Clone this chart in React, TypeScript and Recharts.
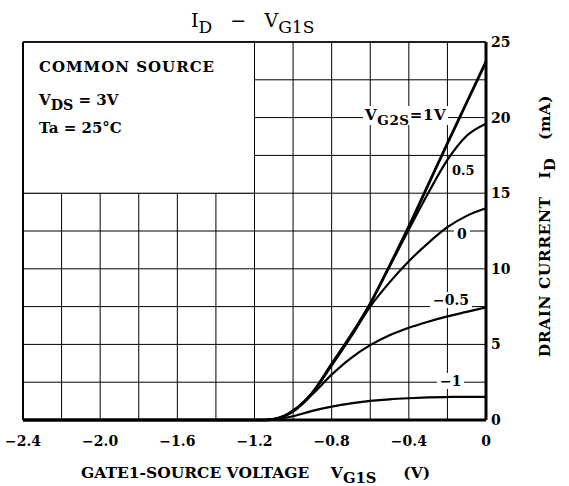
import { LineChart, Line, XAxis, YAxis, CartesianGrid, ReferenceArea, ReferenceLine } from 'recharts'

// gate1-source voltage (V)
const vg1s = [-2.4, -1.2, -1.15, -1.1, -1.0, -0.9, -0.8, -0.7, -0.6, -0.5, -0.4, -0.3, -0.2, -0.1, 0]

// drain current (mA) for each VG2S
const id1V = [0, 0, 0, 0.05, 0.6, 1.8, 3.7, 5.6, 7.7, 10.2, 12.8, 15.55, 18.3, 21.0, 23.7]
const id05V = [0, 0, 0, 0.05, 0.6, 1.8, 3.7, 5.6, 7.7, 10.15, 12.6, 15.0, 17.2, 18.8, 19.6]
const id0V = [0, 0, 0, 0.05, 0.6, 1.8, 3.6, 5.5, 7.5, 9.1, 10.5, 11.7, 12.75, 13.5, 14.0]
const idM05V = [0, 0, 0, 0.05, 0.55, 1.7, 3.0, 4.1, 4.95, 5.6, 6.1, 6.5, 6.85, 7.15, 7.45]
const idM1V = [0, 0, 0, 0.05, 0.25, 0.6, 0.88, 1.1, 1.26, 1.37, 1.44, 1.49, 1.52, 1.53, 1.53]

const xTicks = [-2.4, -2.2, -2.0, -1.8, -1.6, -1.4, -1.2, -1.0, -0.8, -0.6, -0.4, -0.2, 0]
const xTickLabels = ['−2.4', '', '−2.0', '', '−1.6', '', '−1.2', '', '−0.8', '', '−0.4', '', '0']
const yTicks = [0, 2.5, 5, 7.5, 10, 12.5, 15, 17.5, 20, 22.5, 25]
const yTickLabels = ['0', '', '5', '', '10', '', '15', '', '20', '', '25']

const data = vg1s.map((v, i) => ({
  vg1s: v,
  v1: id1V[i],
  v05: id05V[i],
  v0: id0V[i],
  vm05: idM05V[i],
  vm1: idM1V[i],
}))

const font = "'DejaVu Serif', serif"
const tickStyle = { fontSize: 14, fontWeight: 700, fill: '#000', fontFamily: font }

const Sub = ({ children, size = '0.85em' }: { children: string; size?: string }) => (
  <span style={{ fontSize: size, position: 'relative', top: '0.35em' }}>{children}</span>
)

const labelBase: React.CSSProperties = {
  position: 'absolute',
  fontFamily: font,
  fontWeight: 700,
  color: '#000',
  whiteSpace: 'nowrap',
  lineHeight: 1,
}

export default function App() {
  return (
    <div style={{ position: 'absolute', left: 0, top: 0, width: 569, height: 486, background: '#fff' }}>
      <LineChart
        width={569}
        height={486}
        data={data}
        margin={{ top: 42, right: 53, bottom: 36, left: 23 }}
      >
        <CartesianGrid stroke="#000" strokeWidth={1} />
        <XAxis
          dataKey="vg1s"
          type="number"
          domain={[-2.4, 0]}
          ticks={xTicks}
          tickFormatter={(v: number) => xTickLabels[xTicks.findIndex((t) => Math.abs(t - v) < 1e-6)] ?? ''}
          tick={tickStyle}
          tickLine={false}
          tickMargin={10}
          axisLine={{ stroke: '#000', strokeWidth: 3 }}
          height={30}
          interval={0}
        />
        <YAxis
          orientation="right"
          type="number"
          domain={[0, 25]}
          ticks={yTicks}
          tickFormatter={(v: number) => yTickLabels[yTicks.indexOf(v)] ?? ''}
          tick={tickStyle}
          tickLine={false}
          tickSize={0}
          tickMargin={5}
          axisLine={{ stroke: '#000', strokeWidth: 3 }}
          width={30}
          interval={0}
        />
        <ReferenceLine x={-2.4} stroke="#000" strokeWidth={2} />
        <ReferenceLine y={25} stroke="#000" strokeWidth={1.5} />
        <ReferenceArea x1={-2.4} x2={-1.2} y1={15} y2={25} fill="#fff" fillOpacity={1} stroke="#000" strokeWidth={1} />
        <Line type="monotone" dataKey="vm1" stroke="#000" strokeWidth={2.2} dot={false} isAnimationActive={false} />
        <Line type="monotone" dataKey="vm05" stroke="#000" strokeWidth={2.2} dot={false} isAnimationActive={false} />
        <Line type="monotone" dataKey="v0" stroke="#000" strokeWidth={2.2} dot={false} isAnimationActive={false} />
        <Line type="monotone" dataKey="v05" stroke="#000" strokeWidth={2.2} dot={false} isAnimationActive={false} />
        <Line type="monotone" dataKey="v1" stroke="#000" strokeWidth={2.8} dot={false} isAnimationActive={false} />
      </LineChart>

      {/* title */}
      <div style={{ ...labelBase, fontWeight: 400, left: 191, top: 11, fontSize: 19 }}>
        I<Sub size="0.9em">D</Sub>&nbsp;&nbsp;&nbsp;−&nbsp;&nbsp;&nbsp;V<Sub size="0.9em">G1S</Sub>
      </div>

      {/* conditions */}
      <div style={{ ...labelBase, left: 39, top: 60, fontSize: 15, letterSpacing: 1 }}>COMMON SOURCE</div>
      <div style={{ ...labelBase, left: 39, top: 93, fontSize: 15 }}>
        V<Sub size="0.95em">DS</Sub>&nbsp;=&nbsp;3V
      </div>
      <div style={{ ...labelBase, left: 39, top: 121, fontSize: 15 }}>Ta&nbsp;=&nbsp;25°C</div>

      {/* curve labels */}
      <div style={{ ...labelBase, left: 363, top: 106, fontSize: 15, letterSpacing: 0.6, background: '#fff', padding: '2px 2px' }}>
        V<Sub size="0.9em">G2S</Sub>=1V
      </div>
      <div style={{ ...labelBase, left: 452, top: 164, fontSize: 13 }}>0.5</div>
      <div style={{ ...labelBase, left: 454, top: 226, fontSize: 14, background: '#fff', padding: '1px 3px' }}>0</div>
      <div style={{ ...labelBase, left: 430, top: 292, fontSize: 14, background: '#fff', padding: '1px 3px' }}>−0.5</div>
      <div style={{ ...labelBase, left: 437, top: 373, fontSize: 14, background: '#fff', padding: '1px 3px' }}>−1</div>

      {/* x axis title */}
      <div style={{ ...labelBase, left: 81, top: 465, fontSize: 15.5 }}>
        GATE1-SOURCE VOLTAGE&nbsp;&nbsp;&nbsp;&nbsp;V<Sub size="0.95em">G1S</Sub>&nbsp;&nbsp;&nbsp;&nbsp;&nbsp;(V)
      </div>

      {/* y axis title */}
      <div
        style={{
          ...labelBase,
          left: 545,
          top: 226,
          fontSize: 15.5,
          letterSpacing: 0.5,
          transform: 'translate(-50%, -50%) rotate(-90deg)',
        }}
      >
        DRAIN CURRENT&nbsp;&nbsp;&nbsp;I<Sub size="0.95em">D</Sub>&nbsp;&nbsp;&nbsp;(mA)
      </div>
    </div>
  )
}
